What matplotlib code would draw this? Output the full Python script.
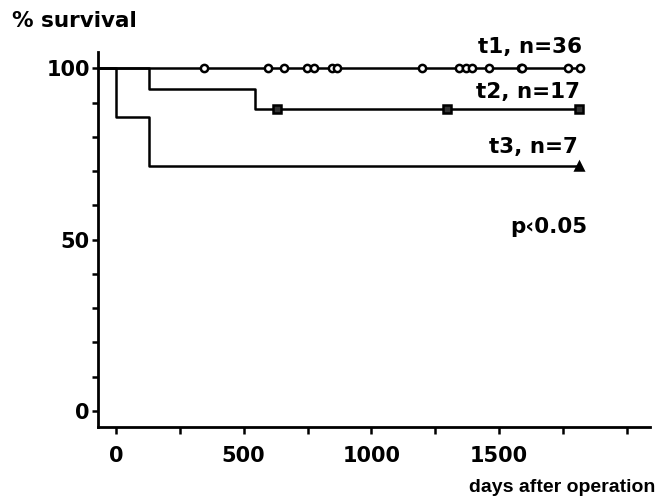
import matplotlib
matplotlib.use("Agg")
import matplotlib.pyplot as plt

## Kaplan-Meier style step curves
## times are days, survival in percent
t1_days = [-72, 1815]
t1_surv = [100, 100]
t1_cens = [345, 594, 659, 746, 775, 844, 864, 1196, 1344, 1369, 1392,
           1461, 1586, 1590, 1768, 1815]

t2_days = [-72, 131, 544, 1815]
t2_surv = [100, 94.1, 88.2, 88.2]
t2_cens = [631, 1294, 1812]

t3_days = [-72, 0, 131, 1815]
t3_surv = [100, 85.7, 71.4, 71.4]
t3_cens = [1812]

labels = ["t1, n=36", "t2, n=17", "t3, n=7"]
xticks_major = [0, 500, 1000, 1500]
xticks_minor = [250, 750, 1250, 1750, 2000]
yticks_major = [0, 50, 100]
yticks_minor = [10, 20, 30, 40, 60, 70, 80, 90]

plt.rcParams['font.family'] = ['DejaVu Sans']
plt.rcParams['font.weight'] = 'bold'

fig = plt.figure(figsize=(6.62, 4.97), dpi=100)
ax = fig.add_axes([97.5/662, (497-426.7)/497, (650-97.5)/662, (426.7-52)/497])

def km(ax, days, surv, cens, marker, mfc, ms):
    ax.step(days, surv, where='post', color='black', lw=1.8)
    # censor marks sit on the curve level at that time
    ys = []
    for c in cens:
        y = surv[0]
        for d, s in zip(days, surv):
            if d <= c:
                y = s
        ys.append(y)
    ax.plot(cens, ys, linestyle='none', marker=marker, ms=ms,
            mfc=mfc, mec='black', mew=1.8)

km(ax, t1_days, t1_surv, t1_cens, 'o', 'white', 5.2)
km(ax, t2_days, t2_surv, t2_cens, 's', '#333333', 5.2)
km(ax, t3_days, t3_surv, t3_cens, '^', 'black', 6)

ax.set_xlim(-72, 2090)
ax.set_ylim(-4.6, 104.8)

for s in ['top', 'right']:
    ax.spines[s].set_visible(False)
for s in ['left', 'bottom']:
    ax.spines[s].set_linewidth(2)

ax.set_xticks(xticks_major)
ax.set_xticks(xticks_minor, minor=True)
ax.set_yticks(yticks_major)
ax.set_yticks(yticks_minor, minor=True)
ax.tick_params(axis='both', which='both', direction='out', width=1.8,
               labelsize=15, color='black')
ax.tick_params(axis='x', which='both', length=5, pad=9)
ax.tick_params(axis='y', which='both', length=4.5, pad=1)
for lab in ax.get_xticklabels() + ax.get_yticklabels():
    lab.set_fontweight('bold')

fig.text(12/662, 1 - 27/497, "% survival", fontsize=15.5, fontweight='bold',
         ha='left', va='baseline')
fig.text(582/662, 1 - 53/497, labels[0], fontsize=15.5, fontweight='bold',
         ha='right', va='baseline')
fig.text(580/662, 1 - 98/497, labels[1], fontsize=15.5, fontweight='bold',
         ha='right', va='baseline')
fig.text(578/662, 1 - 153/497, labels[2], fontsize=15.5, fontweight='bold',
         ha='right', va='baseline')
fig.text(587/662, 1 - 233/497, "p\u20390.05", fontsize=15.5, fontweight='bold',
         ha='right', va='baseline')
fig.text(655/662, 1 - 492/497, "days after operation", fontsize=14,
         fontweight='bold', family='Liberation Sans', ha='right',
         va='baseline')

fig.savefig("out.png", dpi=100)
